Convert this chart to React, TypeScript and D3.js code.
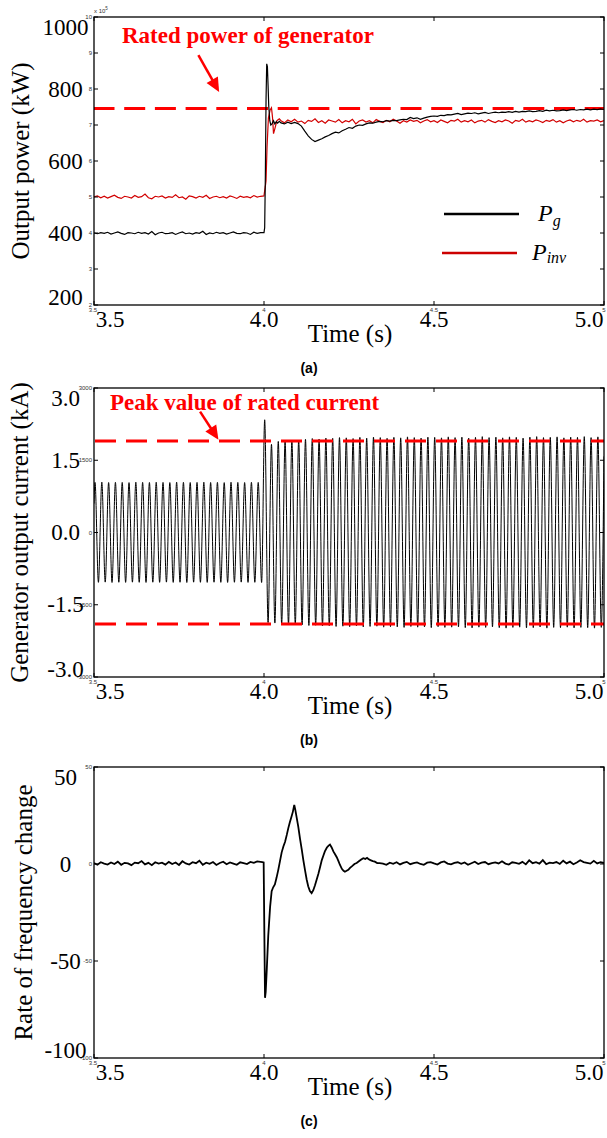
import React from "react";
import * as d3 from "d3";

// ---------------- data ----------------
const timeTicks = [3.5, 4.0, 4.5, 5.0];
const timeBigLabels = ["3.5", "4.0", "4.5", "5.0"];
const timeSmallLabels = ["3.5", "4", "4.5", "5"];

// panel (a): output power, kW
const powerSmallTicks = [200, 300, 400, 500, 600, 700, 800, 900, 1000];
const powerSmallLabels = ["2", "3", "4", "5", "6", "7", "8", "9", "10"];
const powerBigTicks = [200, 400, 600, 800, 1000];
const powerBigLabels = ["200", "400", "600", "800", "1000"];
const ratedPower = 746;

// panel (b): generator current, A
const currentTicks = [-3000, -1500, 0, 1500, 3000];
const currentSmallLabels = ["-3000", "-1500", "0", "1500", "3000"];
const currentBigLabels = ["-3.0", "-1.5", "0.0", "1.5", "3.0"];
const ratedCurrentPeak = 1900;

// panel (c): rate of frequency change
const rocofTicks = [-100, -50, 0, 50];
const rocofSmallLabels = ["-100", "-50", "0", "50"];
const rocofBigLabels = ["-100", "-50", "0", "50"];

const SAMPLE_STEP = 0.01;

// Pg, kW, sampled every 0.01 s from 3.50 s
const pgPre = [
  400, 398, 401, 399, 402, 397, 400, 403, 399, 396,
  401, 400, 398, 402, 399, 401, 397, 404, 395, 400,
  402, 398, 399, 401, 396, 400, 403, 398, 400, 397,
  401, 399, 405, 396, 400, 398, 402, 399, 401, 397,
  400, 403, 399, 398, 401, 400, 396, 402, 399, 401,
];
const pgTransient: [number, number][] = [
  [4.0, 401], [4.002, 415], [4.004, 560], [4.006, 770], [4.008, 870], [4.01, 862],
  [4.012, 810], [4.014, 752], [4.017, 712], [4.02, 700], [4.024, 704], [4.028, 712],
  [4.032, 703], [4.036, 709], [4.04, 705], [4.045, 710],
];
// from 4.05 s
const pgPost = [
  706, 703, 708, 704, 707, 704, 697, 683, 670, 660,
  654, 658, 662, 667, 671, 676, 680, 678, 684, 688,
  693, 691, 697, 700, 699, 703, 706, 705, 708, 710,
  709, 712, 711, 713, 712, 714, 716, 715, 721, 718,
  720, 716, 719, 722, 724, 725, 724, 727, 726, 729,
  728, 730, 732, 729, 731, 733, 732, 734, 731, 733,
  735, 732, 734, 736, 734, 736, 735, 737, 735, 738,
  736, 738, 737, 739, 737, 738, 740, 738, 741, 739,
  741, 739, 740, 742, 740, 742, 743, 741, 743, 742,
  744, 742, 744, 743, 745, 743,
];

// Pinv, kW
const pinvPre = [
  500, 503, 498, 502, 497, 501, 505, 499, 496, 502,
  500, 497, 504, 499, 501, 508, 498, 495, 502, 500,
  503, 497, 501, 499, 506, 498, 500, 494, 503, 501,
  497, 502, 499, 505, 496, 500, 502, 498, 501, 497,
  503, 500, 496, 502, 499, 501, 498, 504, 500, 502,
];
const pinvTransient: [number, number][] = [
  [4.0, 503], [4.002, 518], [4.004, 530], [4.006, 545], [4.009, 640], [4.013, 720],
  [4.018, 742], [4.022, 748], [4.025, 722], [4.028, 676], [4.032, 690], [4.038, 712],
  [4.045, 717],
];
const pinvPost = [
  712, 706, 714, 709, 716, 708, 711, 704, 713, 710,
  717, 707, 712, 705, 714, 711, 708, 715, 706, 712,
  709, 716, 703, 711, 714, 708, 712, 706, 715, 710,
  707, 713, 709, 716, 711, 705, 712, 708, 714, 710,
  713, 706, 711, 715, 709, 712, 707, 714, 710, 706,
  713, 711, 716, 708, 712, 709, 714, 706, 711, 713,
  708, 715, 710, 707, 712, 709, 714, 711, 705, 713,
  710, 716, 708, 712, 709, 714, 711, 707, 713, 710,
  715, 708, 712, 706, 711, 714, 709, 713, 710, 716,
  708, 712, 711, 714, 709, 712,
];

// generator current: one positive and one negative peak per 20 ms cycle, A
const CYCLE = 0.02;
const currentStart: [number, number] = [3.5, 600];
const currentEnd: [number, number] = [5.0, 1580];
const prePeakTime = 3.503;
const postPeakTime = 4.002;
const currPrePeaks = [
  1040, 1045, 1038, 1042, 1040, 1036, 1044, 1041, 1039, 1043,
  1040, 1037, 1045, 1042, 1038, 1040, 1044, 1039, 1041, 1036,
  1043, 1040, 1038, 1042, 1040,
];
const currPreTroughs = [
  -1035, -1030, -1038, -1033, -1036, -1031, -1034, -1037, -1032, -1035,
  -1030, -1036, -1033, -1038, -1031, -1034, -1036, -1032, -1035, -1037,
  -1033, -1030, -1036, -1034, -1038,
];
const currPostPeaks = [
  2340, 1830, 1890, 1900, 1905, 1920, 1935, 1950, 1940, 1960,
  1955, 1970, 1965, 1950, 1975, 1960, 1980, 1970, 1955, 1975,
  1965, 1985, 1970, 1960, 1980, 1975, 1965, 1985, 1970, 1980,
  1960, 1975, 1990, 1970, 1980, 1965, 1985, 1975, 1960, 1980,
  1990, 1970, 1975, 1985, 1965, 1980, 1975, 1990, 1970, 1985,
];
const currPostTroughs = [
  -1870, -1880, -1900, -1910, -1905, -1920, -1930, -1925, -1940, -1935,
  -1950, -1945, -1955, -1940, -1960, -1950, -1945, -1965, -1955, -1960,
  -1970, -1950, -1965, -1960, -1975, -1955, -1970, -1965, -1960, -1975,
  -1980, -1965, -1970, -1960, -1975, -1985, -1970, -1965, -1980, -1975,
  -1960, -1985, -1970, -1975, -1965, -1980, -1970, -1975, -1985, -1970,
];

// rate of frequency change
const rocofPre = [
  0.5, -0.4, 0.9, 0.2, -0.3, 0.8, 0.0, 1.2, -0.4, 0.6,
  0.3, -0.6, 0.7, 0.4, 1.5, -0.2, 0.6, -0.6, 0.9, 0.2,
  0.7, -0.3, 1.1, 0.0, 0.8, -0.5, 1.4, 0.3, -0.3, 0.9,
  0.4, 1.7, -0.4, 0.7, 0.1, 1.0, -0.5, 0.5, 1.2, -0.1,
  0.8, 0.2, -0.4, 0.9, 0.5, 0.0, 1.1, 0.6, 1.3, 1.1,
];
const rocofTransient: [number, number][] = [
  [3.995, 1.0], [3.999, 0.8], [4.001, -35], [4.003, -69], [4.005, -66], [4.008, -55],
  [4.0125, -37], [4.018, -22], [4.0225, -14], [4.027, -12], [4.032, -10.5], [4.037, -7],
  [4.042, -3], [4.047, 1.5], [4.052, 6], [4.057, 9], [4.062, 11.5], [4.067, 15],
  [4.0715, 18.5], [4.076, 21.5], [4.081, 24.5], [4.085, 27], [4.089, 30.5], [4.092, 28],
  [4.096, 24], [4.101, 19], [4.106, 13], [4.111, 7.5], [4.1157, 2], [4.121, -3.5],
  [4.1255, -8], [4.13, -11.5], [4.135, -14], [4.14, -15], [4.145, -13.5], [4.15, -11],
  [4.155, -8], [4.16, -5], [4.165, -1.5], [4.17, 2], [4.175, 4.5], [4.179, 6.5],
  [4.185, 8.5], [4.19, 9.5], [4.194, 10], [4.199, 8.5], [4.204, 6.5], [4.209, 5],
  [4.214, 3.5], [4.219, 1.5], [4.2235, -0.5], [4.229, -2.5], [4.234, -3.5], [4.238, -4],
  [4.243, -3.5], [4.248, -3], [4.253, -2], [4.26, -1], [4.266, 0], [4.2725, 0.5],
  [4.28, 1.5], [4.286, 2.3], [4.292, 3], [4.298, 2.6], [4.303, 3.2], [4.307, 2.6],
  [4.313, 2.0], [4.32, 1.5], [4.326, 1.2], [4.333, 0.5], [4.34, 0.4],
];
// from 4.35 s
const rocofPost = [
  0.2, -0.4, 0.7, 0.1, 0.9, -0.2, 0.6, 1.1, -0.1, 0.5,
  0.8, 0.0, -0.4, 0.7, 1.0, 0.3, -0.3, 0.8, 1.3, 0.2,
  -0.2, 0.6, 0.9, 0.1, 0.8, -0.4, 0.4, 1.2, 0.0, 0.7,
  1.0, -0.1, 0.5, 0.8, 0.3, 1.4, 0.2, -0.3, 0.9, 0.6,
  0.1, 1.1, -0.2, 1.9, 0.4, 0.9, 0.2, 2.0, -0.1, 0.7,
  0.5, 1.0, 0.0, 1.7, 0.3, 1.2, -0.1, 0.8, 1.9, 1.0,
  0.6, 0.2, 1.6, 0.3, 0.9, 0.5,
];

// ---------------- helpers ----------------
type Pt = [number, number];
const uniform = (start: number, values: number[]): Pt[] =>
  values.map((v, i) => [start + i * SAMPLE_STEP, v] as Pt);
const alternating = (firstPeak: number, peaks: number[], troughs: number[]): Pt[] => {
  const out: Pt[] = [];
  peaks.forEach((p, i) => {
    out.push([firstPeak + i * CYCLE, p]);
    out.push([firstPeak + i * CYCLE + CYCLE / 2, troughs[i]]);
  });
  return out;
};

const pgSeries: Pt[] = [...uniform(3.5, pgPre), ...pgTransient, ...uniform(4.05, pgPost)];
const pinvSeries: Pt[] = [...uniform(3.5, pinvPre), ...pinvTransient, ...uniform(4.05, pinvPost)];
const currentSeries: Pt[] = [
  currentStart,
  ...alternating(prePeakTime, currPrePeaks, currPreTroughs),
  ...alternating(postPeakTime, currPostPeaks, currPostTroughs),
  currentEnd,
];
const rocofSeries: Pt[] = [...uniform(3.5, rocofPre), ...rocofTransient, ...uniform(4.35, rocofPost)];

// ---------------- layout ----------------
const X0 = 94;
const X1 = 604;
const SERIF = "'Liberation Serif', 'Times New Roman', serif";
const SANS = "'Liberation Sans', Arial, sans-serif";
const RED = "#ff0000";

const xScale = d3.scaleLinear().domain([3.5, 5.0]).range([X0, X1]);
const yA = d3.scaleLinear().domain([200, 1000]).range([305, 17]);
const yB = d3.scaleLinear().domain([-3000, 3000]).range([677, 388]);
const yC = d3.scaleLinear().domain([-100, 50]).range([1058, 767]);

type FrameProps = {
  id: string;
  y: d3.ScaleLinear<number, number>;
  smallTicks: number[];
  smallLabels: string[];
  bigTicks: number[];
  bigLabels: string[];
  yTitle: string;
  yTitleX: number;
  panel: string;
  children?: React.ReactNode;
};

function Frame({ id, y, smallTicks, smallLabels, bigTicks, bigLabels, yTitle, yTitleX, panel, children }: FrameProps) {
  const [bottom, top] = y.range();
  const midY = (top + bottom) / 2;
  return (
    <g>
      <defs>
        <clipPath id={id}>
          <rect x={X0} y={top} width={X1 - X0} height={bottom - top} />
        </clipPath>
      </defs>
      <g clipPath={`url(#${id})`}>{children}</g>
      {/* y ticks */}
      {smallTicks.map((t, i) => (
        <g key={"yt" + i}>
          <line x1={X0} x2={X0 + 4} y1={y(t)} y2={y(t)} stroke="#000" strokeWidth={1} />
          <line x1={X1} x2={X1 - 4} y1={y(t)} y2={y(t)} stroke="#000" strokeWidth={1} />
          <text x={X0 - 2} y={y(t) + 2} fontSize={6} fontFamily={SANS} textAnchor="end" fill="#333">
            {smallLabels[i]}
          </text>
        </g>
      ))}
      {/* x ticks */}
      {timeTicks.map((t, i) => (
        <g key={"xt" + i}>
          <line x1={xScale(t)} x2={xScale(t)} y1={bottom} y2={bottom - 4} stroke="#000" strokeWidth={1} />
          <line x1={xScale(t)} x2={xScale(t)} y1={top} y2={top + 4} stroke="#000" strokeWidth={1} />
          <text x={xScale(t) + (i === 0 ? -1 : 0)} y={bottom + 7} fontSize={6} fontFamily={SANS} textAnchor="middle" fill="#333">
            {timeSmallLabels[i]}
          </text>
        </g>
      ))}
      {/* box */}
      <rect x={X0} y={top} width={X1 - X0} height={bottom - top} fill="none" stroke="#000" strokeWidth={1.3} />
      {/* big overlaid y labels */}
      {bigTicks.map((t, i) => {
        const cy = Math.max(top + 10, Math.min(bottom - 8, y(t)));
        return (
          <text key={"by" + i} x={65.5} y={cy + 7.5} fontSize={23} fontFamily={SERIF} textAnchor="middle" fill="#000">
            {bigLabels[i]}
          </text>
        );
      })}
      {/* big x labels */}
      {timeTicks.map((t, i) => {
        const cx = Math.max(X0 + 16, Math.min(X1 - 15, xScale(t)));
        return (
          <text key={"bx" + i} x={cx} y={bottom + 22} fontSize={23} fontFamily={SERIF} textAnchor="middle" fill="#000">
            {timeBigLabels[i]}
          </text>
        );
      })}
      <text x={350} y={bottom + 37} fontSize={25} fontFamily={SERIF} textAnchor="middle" fill="#000">
        Time (s)
      </text>
      <text x={309} y={bottom + 68} fontSize={14} fontWeight="bold" fontFamily={SANS} textAnchor="middle" fill="#000">
        {panel}
      </text>
      <text
        transform={`translate(${yTitleX},${midY}) rotate(-90)`}
        fontSize={25}
        fontFamily={SERIF}
        textAnchor="middle"
        fill="#000"
      >
        {yTitle}
      </text>
    </g>
  );
}

function Arrow({ x1, y1, x2, y2 }: { x1: number; y1: number; x2: number; y2: number }) {
  const dx = x2 - x1;
  const dy = y2 - y1;
  const len = Math.hypot(dx, dy);
  const ux = dx / len;
  const uy = dy / len;
  const hl = 14;
  const hw = 6.5;
  const bx = x2 - ux * hl;
  const by = y2 - uy * hl;
  const pts = [
    [x2, y2],
    [bx - uy * hw, by + ux * hw],
    [bx + uy * hw, by - ux * hw],
  ];
  return (
    <g>
      <line x1={x1} y1={y1} x2={bx + ux * 2} y2={by + uy * 2} stroke={RED} strokeWidth={2.5} />
      <polygon points={pts.map((p) => p.join(",")).join(" ")} fill={RED} />
    </g>
  );
}

export default function App() {
  const lineA = d3.line<Pt>().x((d) => xScale(d[0])).y((d) => yA(d[1]));
  const lineB = d3.line<Pt>().x((d) => xScale(d[0])).y((d) => yB(d[1])).curve(d3.curveMonotoneX);
  const lineC = d3.line<Pt>().x((d) => xScale(d[0])).y((d) => yC(d[1]));

  return (
    <svg
      width={607}
      height={1138}
      viewBox="0 0 607 1138"
      style={{ position: "absolute", left: 0, top: 0, background: "#fff" }}
    >
      <rect x={0} y={0} width={607} height={1138} fill="#fff" />

      {/* ---------- panel (a) ---------- */}
      <Frame
        id="clipA"
        y={yA}
        smallTicks={powerSmallTicks}
        smallLabels={powerSmallLabels}
        bigTicks={powerBigTicks}
        bigLabels={powerBigLabels}
        yTitle="Output power (kW)"
        yTitleX={29}
        panel="(a)"
      >
        <line x1={93.5} x2={X1} y1={yA(ratedPower)} y2={yA(ratedPower)} stroke={RED} strokeWidth={3} strokeDasharray="21 9.7" />
        <path d={lineA(pinvSeries) || ""} fill="none" stroke="#d20000" strokeWidth={1.2} />
        <path d={lineA(pgSeries) || ""} fill="none" stroke="#000" strokeWidth={1.2} />
      </Frame>
      <text x={X0} y={13} fontSize={6} fontFamily={SANS} fill="#333">
        x 10<tspan dy={-3} fontSize={4.5}>5</tspan>
      </text>
      <text x={122} y={43} fontSize={23} fontWeight="bold" fontFamily={SERIF} fill={RED}>
        Rated power of generator
      </text>
      <Arrow x1={xScale(3.807)} y1={yA(894)} x2={xScale(3.868)} y2={yA(792)} />
      {/* legend */}
      <line x1={444} x2={519} y1={214} y2={214} stroke="#000" strokeWidth={2.5} />
      <text x={538} y={221} fontSize={24} fontStyle="italic" fontFamily={SERIF} fill="#000">
        P<tspan fontSize={16} dy={5}>g</tspan>
      </text>
      <line x1={442} x2={517} y1={253} y2={253} stroke="#cc0000" strokeWidth={2.5} />
      <text x={532} y={260} fontSize={24} fontStyle="italic" fontFamily={SERIF} fill="#000">
        P<tspan fontSize={16} dy={3}>inv</tspan>
      </text>

      {/* ---------- panel (b) ---------- */}
      <Frame
        id="clipB"
        y={yB}
        smallTicks={currentTicks}
        smallLabels={currentSmallLabels}
        bigTicks={currentTicks}
        bigLabels={currentBigLabels}
        yTitle="Generator output current (kA)"
        yTitleX={28}
        panel="(b)"
      >
        <path d={lineB(currentSeries) || ""} fill="none" stroke="#000" strokeWidth={1} />
        <line x1={95} x2={X1} y1={yB(ratedCurrentPeak)} y2={yB(ratedCurrentPeak)} stroke={RED} strokeWidth={3} strokeDasharray="21 10" />
        <line x1={95} x2={X1} y1={yB(-ratedCurrentPeak)} y2={yB(-ratedCurrentPeak)} stroke={RED} strokeWidth={3} strokeDasharray="21 10" />
      </Frame>
      <text x={110} y={410} fontSize={23} fontWeight="bold" fontFamily={SERIF} fill={RED}>
        Peak value of rated current
      </text>
      <Arrow x1={xScale(3.812)} y1={yB(2510)} x2={xScale(3.866)} y2={yB(1925)} />

      {/* ---------- panel (c) ---------- */}
      <Frame
        id="clipC"
        y={yC}
        smallTicks={rocofTicks}
        smallLabels={rocofSmallLabels}
        bigTicks={rocofTicks}
        bigLabels={rocofBigLabels}
        yTitle="Rate of frequency change"
        yTitleX={32}
        panel="(c)"
      >
        <path d={lineC(rocofSeries) || ""} fill="none" stroke="#000" strokeWidth={1.8} />
      </Frame>
    </svg>
  );
}
